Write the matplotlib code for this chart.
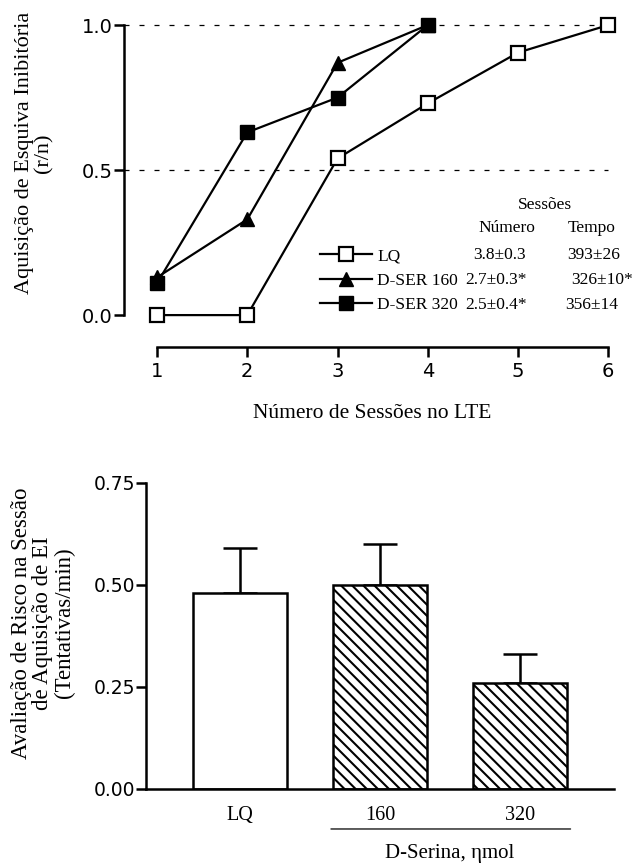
import matplotlib
matplotlib.use("Agg")
import matplotlib.pyplot as plt

# --- Top panel: cumulative acquisition of inhibitory avoidance ---
sessions = [1, 2, 3, 4, 5, 6]
lq_acq = [0.0, 0.0, 0.54, 0.73, 0.905, 1.0]
dser160_sessions = [1, 2, 3, 4]
dser160_acq = [0.13, 0.33, 0.87, 1.0]
dser320_sessions = [1, 2, 3, 4]
dser320_acq = [0.11, 0.63, 0.75, 1.0]

group_labels = ["LQ", "D-SER 160", "D-SER 320"]
numero = ["3.8\u00b10.3", "2.7\u00b10.3*", "2.5\u00b10.4*"]
tempo = ["393\u00b126", "326\u00b110*", "356\u00b114"]

# --- Bottom panel: risk assessment ---
bar_groups = ["LQ", "160", "320"]
risk_mean = [0.48, 0.50, 0.26]
risk_sem = [0.11, 0.10, 0.07]

plt.rcParams["hatch.linewidth"] = 1.5

W, H = 634, 865
fig = plt.figure(figsize=(W / 100, H / 100), dpi=100)
serif = "Liberation Serif"
sans = "DejaVu Sans"


def px_axes(left, top, right, bottom):
    return fig.add_axes([left / W, 1 - bottom / H, (right - left) / W, (bottom - top) / H])


def fig_xy(x, y):
    return x / W, 1 - y / H


# Top panel
ax1 = px_axes(124, 12, 620, 347)
lw = 1.6
ax1.plot(sessions, lq_acq, color="black", lw=lw, marker="s", ms=9.5,
         mfc="white", mec="black", mew=1.6, clip_on=False, zorder=3, label=group_labels[0])
ax1.plot(dser160_sessions, dser160_acq, color="black", lw=lw, marker="^", ms=10,
         mfc="black", mec="black", clip_on=False, zorder=3, label=group_labels[1])
ax1.plot(dser320_sessions, dser320_acq, color="black", lw=lw, marker="s", ms=9.5,
         mfc="black", mec="black", clip_on=False, zorder=3, label=group_labels[2])
for yv in (0.5, 1.0):
    ax1.axhline(yv, xmin=0.0, xmax=0.976, color="black", lw=0.9, ls=(0, (4, 8)), zorder=1)

ax1.set_xlim(0.634, 6.13)
ax1.set_ylim(-0.110, 1.045)
for s in ("top", "right"):
    ax1.spines[s].set_visible(False)
ax1.spines["left"].set_bounds(0, 1)
ax1.spines["bottom"].set_bounds(1, 6)
ax1.spines["left"].set_linewidth(1.8)
ax1.spines["bottom"].set_linewidth(1.8)
ax1.set_xticks(sessions)
ax1.set_yticks([0.0, 0.5, 1.0])
ax1.set_yticklabels(["0.0", "0.5", "1.0"])
ax1.tick_params(axis="both", direction="out", length=7, width=1.8, labelsize=14)
ax1.tick_params(axis="y", pad=1)
ax1.tick_params(axis="x", pad=4)
for t in ax1.get_xticklabels() + ax1.get_yticklabels():
    t.set_fontfamily(sans)
ax1.set_xlabel("Número de Sessões no LTE", fontfamily=serif, fontsize=15.5, labelpad=16)
fig.text(*fig_xy(34, 153), "Aquisição de Esquiva Inibitória\n(r/n)", rotation=90,
         ha="center", va="center", multialignment="center",
         fontfamily=serif, fontsize=16, linespacing=1.0)

leg = ax1.legend(loc="upper left", bbox_to_anchor=fig_xy(320, 248),
                 bbox_transform=fig.transFigure, frameon=False,
                 prop={"family": serif, "size": 12.5}, handlelength=3.0,
                 handletextpad=0.3, labelspacing=0.48, borderpad=0, borderaxespad=0)

fig.text(*fig_xy(545, 205), "Sessões", ha="center", va="center", fontfamily=serif, fontsize=12.5)
fig.text(*fig_xy(507, 228), "Número", ha="center", va="center", fontfamily=serif, fontsize=12.5)
fig.text(*fig_xy(592, 228), "Tempo", ha="center", va="center", fontfamily=serif, fontsize=12.5)
row_y = [255, 280, 305]
num_x = [473, 465, 465]
tempo_x = [567, 571, 565]
for yv, nx, tx, n, t in zip(row_y, num_x, tempo_x, numero, tempo):
    fig.text(*fig_xy(nx, yv), n, ha="left", va="center", fontfamily=serif, fontsize=12.5)
    fig.text(*fig_xy(tx, yv), t, ha="left", va="center", fontfamily=serif, fontsize=12.5)

# Bottom panel
ax2 = px_axes(146, 475, 614, 789)
xpos = list(range(len(bar_groups)))
ax2.bar(xpos, risk_mean, width=0.67, color="white", edgecolor="black", linewidth=1.8,
        hatch=["", "\\\\\\", "\\\\\\"], zorder=2)
ax2.errorbar(xpos, risk_mean, yerr=[[0] * len(risk_sem), risk_sem], fmt="none",
             ecolor="black", elinewidth=1.8, capsize=12, capthick=1.8, zorder=1)
ax2.set_xlim(-0.67, 2.67)
ax2.set_ylim(0, 0.7696)
for s in ("top", "right"):
    ax2.spines[s].set_visible(False)
ax2.spines["left"].set_bounds(0, 0.75)
ax2.spines["left"].set_linewidth(1.8)
ax2.spines["bottom"].set_linewidth(1.8)
ax2.set_yticks([0.0, 0.25, 0.5, 0.75])
ax2.set_yticklabels(["0.00", "0.25", "0.50", "0.75"])
ax2.tick_params(axis="y", direction="out", length=7, width=1.8, labelsize=13.5, pad=1)
for t in ax2.get_yticklabels():
    t.set_fontfamily(sans)
ax2.set_xticks(xpos)
ax2.set_xticklabels(bar_groups, fontfamily=serif, fontsize=14.5)
ax2.tick_params(axis="x", length=0, pad=12)
fig.text(*fig_xy(43, 623), "Avaliação de Risco na Sessão\nde Aquisição de EI\n(Tentativas/min)",
         rotation=90, ha="center", va="center", multialignment="center",
         fontfamily=serif, fontsize=16.5, linespacing=1.03)

# Bracket marking the D-Serina doses
ax2.annotate("", xy=(0.63, -0.098), xytext=(2.38, -0.098), xycoords="data",
             arrowprops=dict(arrowstyle="-", lw=0.9, color="black"), annotation_clip=False)
ax2.text(1.5, -0.157, "D-Serina, \u03b7mol", ha="center", va="center",
         fontfamily=serif, fontsize=15, clip_on=False)

fig.savefig("out.png", dpi=100, facecolor="white")
